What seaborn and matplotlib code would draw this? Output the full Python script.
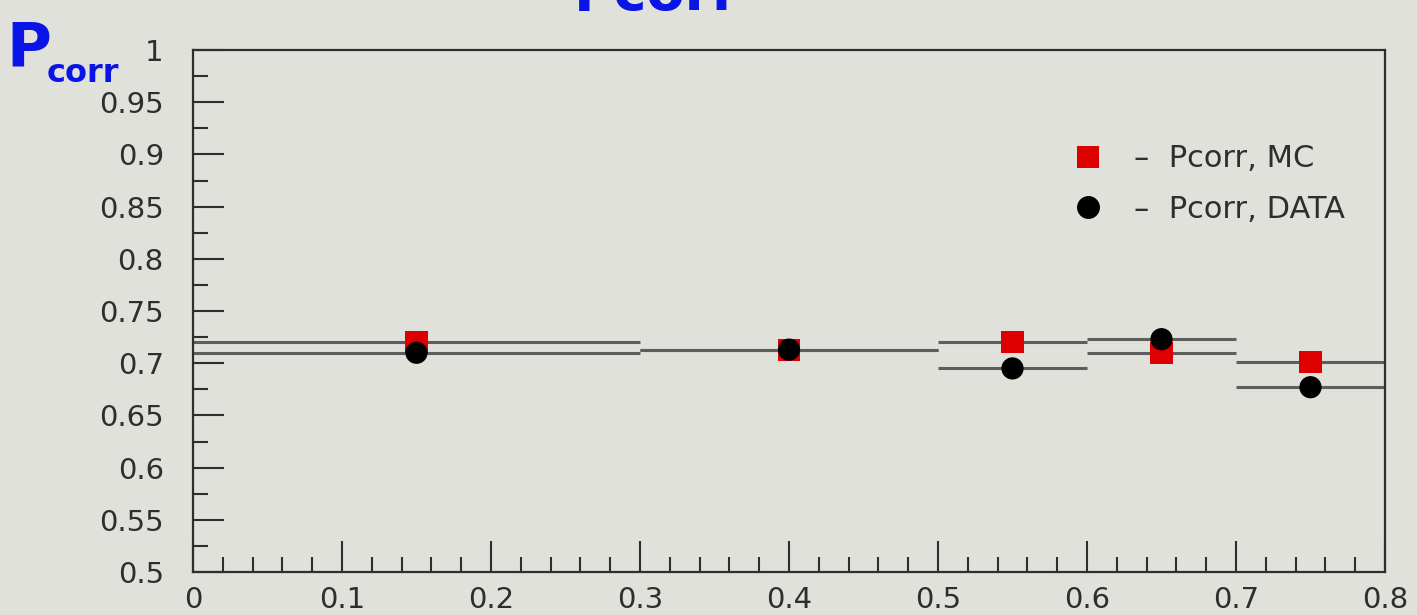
import matplotlib
matplotlib.use("Agg")
import matplotlib.pyplot as plt
from matplotlib.lines import Line2D
from matplotlib.ticker import MultipleLocator
import seaborn as sns
import pandas as pd

# Bin edges and centres of the momentum bins
bin_lo = [0.0, 0.3, 0.5, 0.6, 0.7]
bin_hi = [0.3, 0.5, 0.6, 0.7, 0.8]
bin_center = [0.15, 0.4, 0.55, 0.65, 0.75]

# Correction probability per bin
pcorr_mc = [0.720, 0.713, 0.720, 0.710, 0.701]
pcorr_data = [0.710, 0.713, 0.695, 0.723, 0.677]

series_names = ["MC", "DATA"]
legend_labels = ["–  Pcorr, MC", "–  Pcorr, DATA"]

bg = "#e1e1dc"
ink = "#2e2e2e"
pen = "#0a14e6"

sns.set_style("ticks")
plt.rcParams["font.family"] = ["DejaVu Sans"]

fig = plt.figure(figsize=(14.17, 6.15), dpi=100, facecolor=bg)
ax = fig.add_axes([193 / 1417, 1 - 572 / 615, (1385 - 193) / 1417, (572 - 50) / 615])
ax.set_facecolor(bg)

df = pd.DataFrame({
    "x": bin_center * 2,
    "y": pcorr_mc + pcorr_data,
    "lo": bin_lo * 2,
    "hi": bin_hi * 2,
    "series": [series_names[0]] * len(bin_center) + [series_names[1]] * len(bin_center),
})

# Horizontal bars showing the bin width
ax.hlines(df["y"], df["lo"], df["hi"], colors="#5e5e5e", linewidth=2.2, zorder=2)

sns.scatterplot(data=df, x="x", y="y", hue="series", style="series",
                markers={"MC": "s", "DATA": "o"},
                palette={"MC": "#dd0000", "DATA": "#000000"},
                s=256, linewidth=0, legend=False, ax=ax, zorder=3)

ax.set_xlim(0, 0.8)
ax.set_ylim(0.5, 1.0)
ax.set_xlabel("")
ax.set_ylabel("")

ax.xaxis.set_major_locator(MultipleLocator(0.1))
ax.xaxis.set_minor_locator(MultipleLocator(0.02))
ax.yaxis.set_major_locator(MultipleLocator(0.05))
ax.yaxis.set_minor_locator(MultipleLocator(0.025))
ax.set_xticklabels([f"{v:g}" for v in ax.get_xticks()])
ax.set_yticklabels([f"{v:g}" for v in ax.get_yticks()])

ax.tick_params(axis="both", which="major", direction="in", length=22, width=1.5,
               color=ink, labelsize=21, labelcolor=ink)
ax.tick_params(axis="both", which="minor", direction="in", length=11, width=1.5, color=ink)
ax.tick_params(axis="x", which="major", pad=10)
ax.tick_params(axis="y", which="major", pad=21)

for side in ["left", "right", "top", "bottom"]:
    ax.spines[side].set_visible(True)
    ax.spines[side].set_color(ink)
    ax.spines[side].set_linewidth(1.6)

handles = [
    Line2D([], [], marker="s", linestyle="none", markersize=16,
           markerfacecolor="#dd0000", markeredgewidth=0),
    Line2D([], [], marker="o", linestyle="none", markersize=16.5,
           markerfacecolor="#000000", markeredgewidth=0),
]
leg = ax.legend(handles, legend_labels, loc="upper left", bbox_to_anchor=(0.738, 0.819),
                frameon=False, fontsize=22, handlelength=1.0, handletextpad=1.0,
                labelspacing=0.7, borderpad=0, borderaxespad=0)
for t in leg.get_texts():
    t.set_color(ink)

# Handwritten annotations
fig.text(6 / 1417, 1 - 65 / 615, "P", color=pen, fontsize=44, fontweight="bold",
         ha="left", va="baseline")
fig.text(47 / 1417, 1 - 82 / 615, "corr", color=pen, fontsize=23, fontweight="bold",
         ha="left", va="baseline")
fig.text(657 / 1417, 1 - 10 / 615, "Pcorr", color=pen, fontsize=40, fontweight="bold",
         ha="center", va="baseline")

fig.savefig("out.png", dpi=100, facecolor=bg)
